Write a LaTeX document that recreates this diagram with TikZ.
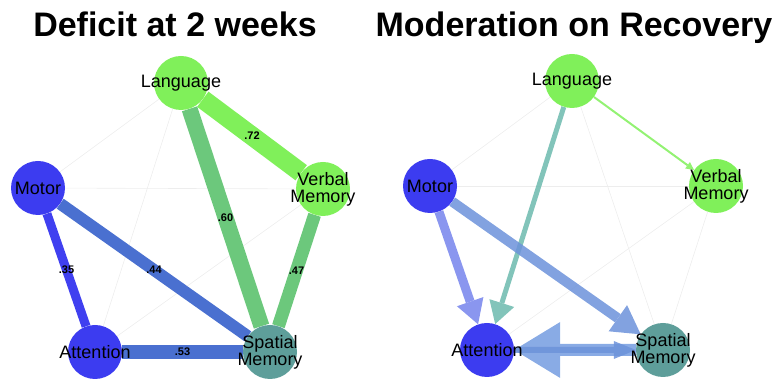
\documentclass[tikz,border=0pt]{standalone}
\usepackage{fontspec}
\setmainfont{Liberation Sans}
\usetikzlibrary{arrows.meta}
\pgfdeclarelayer{bg}
\pgfsetlayers{bg,main}
\definecolor{limegrn}{HTML}{80F05A}
\definecolor{domblue}{HTML}{3C3CF0}
\definecolor{spteal}{HTML}{5E9E9A}
\definecolor{edgegrn}{HTML}{6CC87C}
\definecolor{edgesteel}{HTML}{4A70D0}
\definecolor{edgeblue}{HTML}{4040F0}
\definecolor{arrteal}{HTML}{6CBAAE}
\definecolor{arrblue}{HTML}{7584EC}
\definecolor{arrsteel}{HTML}{6C92DA}
\definecolor{arrsky}{HTML}{749CE0}
\tikzset{dom/.style = {circle, fill=#1, minimum size=54pt, inner sep=0pt}}
\tikzset{lbl/.style = {font=\fontsize{18}{17}\selectfont, align=center, text=black}}
\tikzset{wt/.style = {font=\fontsize{11}{12}\selectfont\bfseries, inner sep=0pt}}
\tikzset{faint/.style = {draw=black!7, line width=0.6pt}}
\tikzset{ttl/.style = {font=\fontsize{34}{36}\selectfont\bfseries, anchor=base}}
\tikzset{glass/.style = {transparency group, opacity=0.85}}

\begin{document}
\begin{tikzpicture}[x=1pt, y=1pt]
    \useasboundingbox (0, 0) rectangle (780, 382);

    % deficit at 2 weeks
    \node [ttl] (ttlA) at (175, 345) {Deficit at 2 weeks};
    \node [dom=limegrn, label={[lbl]center:Language}] (langA) at (181, 299) {};
    \node [dom=domblue, label={[lbl]center:Motor}] (motA) at (38, 194) {};
    \node [dom=limegrn, label={[lbl]center:{Verbal\\Memory}}] (verbA) at (323, 193) {};
    \node [dom=domblue, label={[lbl]center:Attention}] (attA) at (95, 30) {};
    \node [dom=spteal, label={[lbl]center:{Spatial\\Memory}}] (spatA) at (270, 30) {};

    \begin{pgfonlayer}{bg}
      \draw [faint] (langA) -- (motA);
      \draw [faint] (langA) -- (attA);
      \draw [faint] (motA) -- (verbA);
      \draw [faint] (attA) -- (verbA);
      \draw [draw=limegrn, line width=19pt] (langA) -- node [wt] {.72} (verbA);
      \draw [draw=edgegrn, line width=16pt] (langA) -- node [wt] {.60} (spatA);
      \draw [draw=edgegrn, line width=13pt] (verbA) -- node [wt] {.47} (spatA);
      \draw [draw=edgesteel, line width=12pt] (motA) -- node [wt] {.44} (spatA);
      \draw [draw=edgeblue, line width=9pt] (motA) -- node [wt] {.35} (attA);
      \draw [draw=edgesteel, line width=14pt] (attA) -- node [wt] {.53} (spatA);
    \end{pgfonlayer}

    % moderation on recovery
    \node [ttl] (ttlB) at (574, 345) {Moderation on Recovery};
    \node [dom=limegrn, label={[lbl]center:Language}] (langB) at (572, 301) {};
    \node [dom=domblue, label={[lbl]center:Motor}] (motB) at (430, 196) {};
    \node [dom=limegrn, label={[lbl]center:{Verbal\\Memory}}] (verbB) at (716, 196) {};
    \node [dom=domblue, label={[lbl]center:Attention}] (attB) at (487, 32) {};
    \node [dom=spteal, label={[lbl]center:{Spatial\\Memory}}] (spatB) at (663, 32) {};

    \begin{pgfonlayer}{bg}
      \draw [faint] (langB) -- (motB);
      \draw [faint] (langB) -- (spatB);
      \draw [faint] (motB) -- (verbB);
      \draw [faint] (attB) -- (verbB);
      \draw [faint] (verbB) -- (spatB);
      \begin{scope}[glass]
        \draw [draw=limegrn, line width=2pt, -{Triangle[width=8pt, length=8pt, line width=0pt]}] (langB) -- (verbB);
      \end{scope}
      \begin{scope}[glass]
        \draw [draw=arrteal, fill=arrteal, line width=5pt, -{Triangle[width=26pt, length=22pt, line width=0pt]}] (langB) -- (attB);
      \end{scope}
      \begin{scope}[glass]
        \draw [draw=arrblue, fill=arrblue, line width=9pt, -{Triangle[width=28pt, length=24pt, line width=0pt]}] (motB) -- (attB);
      \end{scope}
      \begin{scope}[glass]
        \draw [draw=arrsteel, fill=arrsteel, line width=10pt, -{Triangle[width=32pt, length=28pt, line width=0pt]}] (motB) -- (spatB);
      \end{scope}
      \begin{scope}[glass]
        \draw [draw=arrsky, fill=arrsky, line width=12pt, -{Triangle[width=56pt, length=46pt, line width=0pt]}] (spatB) -- (attB);
      \end{scope}
      \begin{scope}[glass]
        \draw [draw=arrsteel, fill=arrsteel, line width=6pt, -{Triangle[width=18pt, length=22pt, line width=0pt]}] (attB) -- (spatB);
      \end{scope}
    \end{pgfonlayer}
\end{tikzpicture}
\end{document}
